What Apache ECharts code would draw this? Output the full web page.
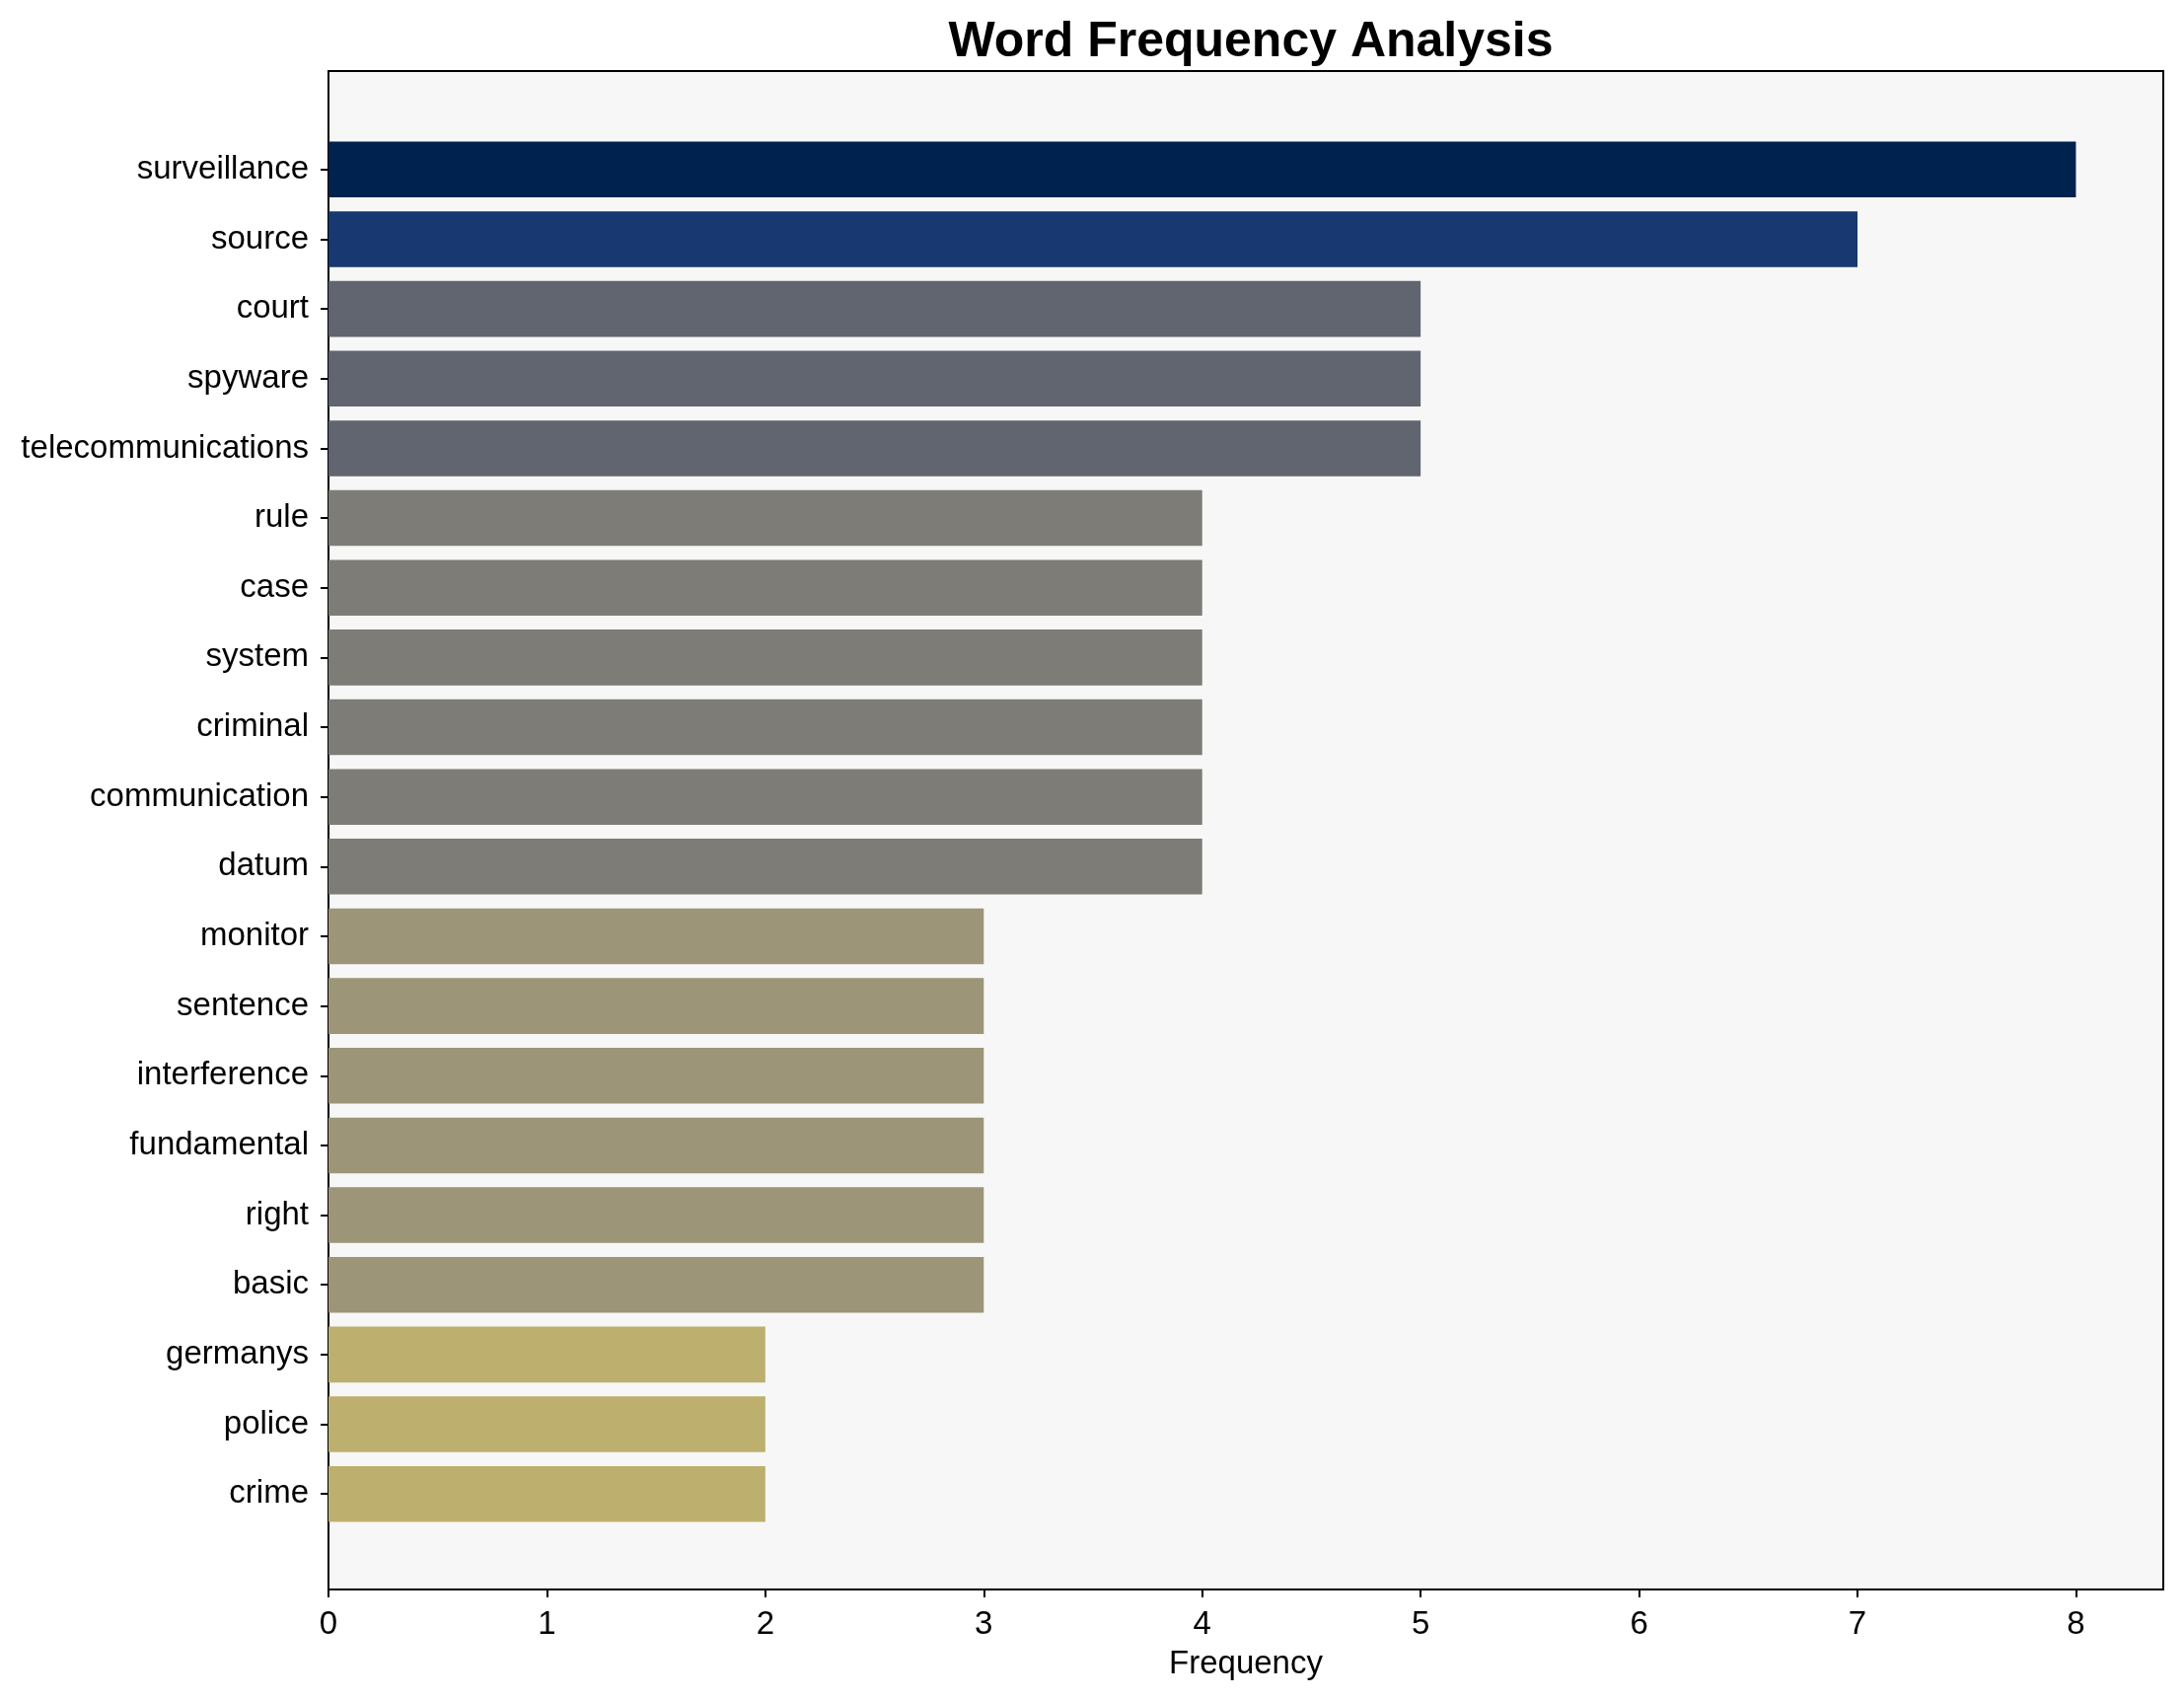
<!DOCTYPE html>
<html>
<head>
<meta charset="utf-8">
<script src="https://cdn.jsdelivr.net/npm/echarts@6/dist/echarts.min.js"></script>
<style>
html,body{margin:0;padding:0;background:#fff;}
#chart{width:2214px;height:1722px;}
</style>
</head>
<body>
<div id="chart"></div>
<script>
const words = ['surveillance','source','court','spyware','telecommunications','rule','case','system','criminal','communication','datum','monitor','sentence','interference','fundamental','right','basic','germanys','police','crime'];
const counts = [8,7,5,5,5,4,4,4,4,4,4,3,3,3,3,3,3,2,2,2];
const xTicks = [0,1,2,3,4,5,6,7,8];

// cividis palette (reversed so that high counts are dark)
const cividis = ['#00224e','#123570','#3b496c','#575d6d','#707173','#8a8779','#a69d75','#c4b56c','#e4cf5b','#fee838'];
function hex2rgb(h){return [parseInt(h.substr(1,2),16),parseInt(h.substr(3,2),16),parseInt(h.substr(5,2),16)];}
function cividisAt(t){
  t = Math.max(0, Math.min(1, t));
  const pos = t * (cividis.length - 1);
  const i = Math.min(Math.floor(pos), cividis.length - 2);
  const f = pos - i;
  const a = hex2rgb(cividis[i]), b = hex2rgb(cividis[i+1]);
  const c = a.map((v,k)=>Math.round(v + (b[k]-v)*f));
  return 'rgb(' + c.join(',') + ')';
}
const vmax = Math.max(...counts);

const font = "'Liberation Sans', Arial, Helvetica, sans-serif";
const chart = echarts.init(document.getElementById('chart'), null, {renderer:'canvas'});
chart.setOption({
  backgroundColor:'#ffffff',
  animation:false,
  title:{
    text:'Word Frequency Analysis',
    left:1263, top:13, textAlign:'center',
    textStyle:{fontFamily:font, fontSize:50, fontWeight:'bold', color:'#000'}
  },
  grid:[
    {left:333, right:21, top:72, bottom:111, show:true, backgroundColor:'#f7f7f7', borderColor:'#000', borderWidth:2},
    {left:333, right:21, top:136.5, bottom:172.5}
  ],
  xAxis:[
    {type:'value', gridIndex:0, min:0, max:8.4, interval:1,
     axisLine:{show:false}, splitLine:{show:false},
     axisTick:{show:true, length:8, lineStyle:{color:'#000', width:2}, customValues:xTicks},
     axisLabel:{fontFamily:font, fontSize:33, color:'#000', margin:19, customValues:xTicks},
     name:'Frequency', nameLocation:'middle', nameGap:59,
     nameTextStyle:{fontFamily:font, fontSize:33, color:'#000'}
    },
    {type:'value', gridIndex:1, min:0, max:8.4, show:false}
  ],
  yAxis:[
    {type:'value', gridIndex:0, show:false, min:0, max:1},
    {type:'category', gridIndex:1, data:words, inverse:true,
     axisLine:{show:false},
     axisTick:{show:true, alignWithLabel:true, length:8, lineStyle:{color:'#000', width:2}},
     axisLabel:{fontFamily:font, fontSize:33, color:'#000', margin:20, interval:0},
     splitLine:{show:false}
    }
  ],
  series:[{
    type:'bar', xAxisIndex:1, yAxisIndex:1,
    data:counts,
    barCategoryGap:'20%',
    itemStyle:{color:function(p){return cividisAt(1 - p.value / vmax);}}
  }]
});
</script>
</body>
</html>
